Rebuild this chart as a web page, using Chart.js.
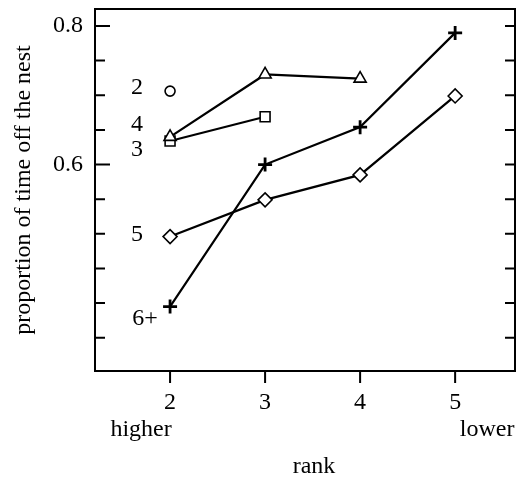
<!DOCTYPE html>
<html>
<head>
<meta charset="utf-8">
<script src="https://cdn.jsdelivr.net/npm/chart.js@4/dist/chart.umd.min.js"></script>
<style>
  body { margin: 0; background: #fff; }
  canvas { display: block; }
</style>
</head>
<body>
<canvas id="nestChart" width="516" height="478"></canvas>
<script>
// ranks on the x axis, one value per rank for each group (null = no point)
const ranks = [2, 3, 4, 5];
const groupNames = ["2", "3", "4", "5", "6+"];
const group2 = [0.706, null, null, null];
const group3 = [0.640, 0.730, 0.724, null];
const group4 = [0.634, 0.669, null, null];
const group5 = [0.496, 0.549, 0.585, 0.699];
const group6 = [0.395, 0.600, 0.654, 0.790];

const yLabelTicks = [0.6, 0.8];
const yMinorTicks = [0.35, 0.4, 0.45, 0.5, 0.55, 0.6, 0.65, 0.7, 0.75, 0.8];
const xEndLabels = ["higher", "lower"];

const FONT = "'Liberation Serif', 'Times New Roman', serif";

// marker style and group-label offset (px from the first point)
const styles = {
  "2": { pointStyle: "circle", radius: 5, dx: -33, dy: -3 },
  "3": { pointStyle: "triangle", radius: 7, dx: -33, dy: 13 },
  "4": { pointStyle: "rect", radius: 7, dx: -33, dy: -16 },
  "5": { pointStyle: "rectRot", radius: 7, dx: -33, dy: -2 },
  "6+": { pointStyle: "cross", radius: 7, dx: -25, dy: 12 },
};

function toPoints(values) {
  return ranks
    .map((r, i) => ({ x: r, y: values[i] }))
    .filter((p) => p.y !== null);
}

const groups = [group2, group3, group4, group5, group6];

const datasets = groups.map((values, i) => {
  const s = styles[groupNames[i]];
  const isCross = s.pointStyle === "cross";
  return {
    label: groupNames[i],
    data: toPoints(values),
    borderColor: "#000",
    borderWidth: 2.2,
    pointStyle: s.pointStyle,
    pointRadius: s.radius,
    pointBorderWidth: isCross ? 2.8 : 1.6,
    pointBackgroundColor: "#fff",
    pointBorderColor: "#000",
    tension: 0,
  };
});

const frame = {
  id: "frame",
  afterDraw(chart) {
    const { ctx, chartArea: a, scales } = chart;
    const x = scales.x;
    const y = scales.y;
    ctx.save();
    ctx.strokeStyle = "#000";
    ctx.lineWidth = 2;
    ctx.strokeRect(a.left, a.top, a.right - a.left, a.bottom - a.top);

    ctx.beginPath();
    for (const v of yMinorTicks) {
      const py = y.getPixelForValue(v);
      const len = yLabelTicks.includes(v) ? 15 : 10;
      ctx.moveTo(a.left, py);
      ctx.lineTo(a.left + len, py);
      ctx.moveTo(a.right, py);
      ctx.lineTo(a.right - 10, py);
    }
    for (const r of ranks) {
      const px = x.getPixelForValue(r);
      ctx.moveTo(px, a.bottom);
      ctx.lineTo(px, a.bottom + 12);
    }
    ctx.stroke();

    ctx.fillStyle = "#000";
    ctx.font = "24px " + FONT;
    ctx.textAlign = "center";
    ctx.textBaseline = "middle";

    chart.data.datasets.forEach((ds) => {
      const s = styles[ds.label];
      const p = ds.data[0];
      ctx.fillText(ds.label, x.getPixelForValue(p.x) + s.dx, y.getPixelForValue(p.y) + s.dy);
    });

    ctx.fillText(xEndLabels[0], x.getPixelForValue(ranks[0]) - 29, a.bottom + 59);
    ctx.fillText(xEndLabels[1], x.getPixelForValue(ranks[ranks.length - 1]) + 32, a.bottom + 59);
    ctx.fillText("rank", (a.left + a.right) / 2 + 9, a.bottom + 96);
    ctx.restore();
  },
};

function noPadding(scale) {
  scale.paddingTop = 0;
  scale.paddingBottom = 0;
  scale.paddingLeft = 0;
  scale.paddingRight = 0;
}

new Chart(document.getElementById("nestChart"), {
  type: "line",
  data: { datasets },
  options: {
    responsive: false,
    animation: false,
    layout: { autoPadding: false, padding: { top: 9, right: 1, left: 0, bottom: 0 } },
    plugins: {
      legend: { display: false },
      tooltip: { enabled: false },
    },
    scales: {
      x: {
        type: "linear",
        min: 1.21,
        max: 5.63,
        grid: { display: false, drawTicks: false },
        border: { display: false },
        afterBuildTicks: (scale) => {
          scale.ticks = ranks.map((v) => ({ value: v }));
        },
        afterFit: (scale) => {
          scale.height = 107;
          noPadding(scale);
        },
        ticks: {
          padding: 17,
          color: "#000",
          font: { family: FONT, size: 24 },
          callback: (v) => String(v),
        },
      },
      y: {
        type: "linear",
        min: 0.302,
        max: 0.8245,
        grid: { display: false, drawTicks: false },
        border: { display: false },
        afterBuildTicks: (scale) => {
          scale.ticks = yLabelTicks.map((v) => ({ value: v }));
        },
        afterFit: (scale) => {
          scale.width = 95;
          noPadding(scale);
        },
        ticks: {
          padding: 12,
          color: "#000",
          font: { family: FONT, size: 24 },
          callback: (v) => Number(v).toFixed(1),
        },
        title: {
          display: true,
          text: "proportion of time off the nest",
          color: "#000",
          font: { family: FONT, size: 24 },
          padding: { top: 9, bottom: 0 },
        },
      },
    },
  },
  plugins: [frame],
});
</script>
</body>
</html>
